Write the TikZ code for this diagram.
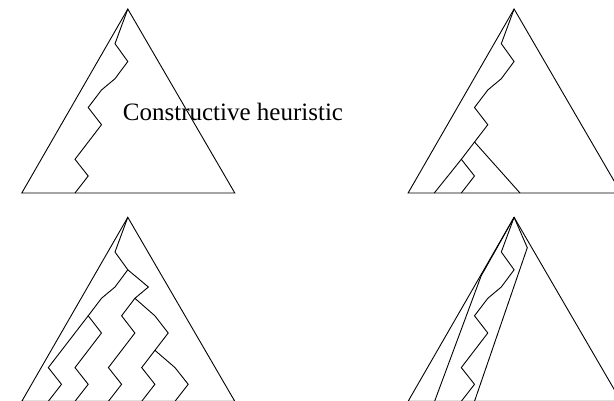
\documentclass[tikz,border=0pt]{standalone}
\usepackage{fontspec}
\setmainfont{Liberation Serif}
\begin{document}
\begin{tikzpicture}[x=1pt,y=-1pt]
\tikzset{
  ln/.style={draw=black, line width=0.9pt, line join=miter},
  tri/.pic={
    \draw[ln] (127.8,9) -- (21.8,193) -- (234.8,193) -- cycle;
    \draw[ln] (127.8,9) -- (115,43.7) -- (127.8,61.5) -- (115,78.7) -- (101.5,90)
      -- (88.2,107.5) -- (101.5,124.7) -- (75,159.3) -- (88.2,176) -- (75,193);
  },
  lbl/.style={font=\fontsize{25}{30}\selectfont, inner sep=0pt, anchor=base}
}
\useasboundingbox (0,0) rectangle (614,400);
% top left
\begin{scope}
  \pic {tri};
\end{scope}
\node[lbl] (title) at (233,120) {Constructive heuristic};
% top right
\begin{scope}[shift={(386.3,0)}]
  \pic {tri};
  \coordinate (trA) at (88.2,142);
  \coordinate (trB) at (133.7,193);
  \coordinate (trC) at (75,159.3);
  \coordinate (trD) at (48,193);
  \draw[ln] (trA) -- (trB);
  \draw[ln] (trC) -- (trD);
\end{scope}
% bottom left
\begin{scope}[shift={(0,208.3)}]
  \pic {tri};
  \coordinate (blA) at (88.2,107.5);
  \coordinate (blB) at (127.8,61.5);
  \draw[ln] (blA) -- (48.3,159.3) -- (61.5,176) -- (48.3,193);
  \draw[ln] (blB) -- (148.4,78.7) -- (134.9,90) -- (121.6,107.5) -- (134.9,124.7)
    -- (108.4,159.3) -- (121.6,176) -- (108.4,193);
  \draw[ln] (134.9,90) -- (154.9,107.5) -- (168.2,124.7) -- (141.7,159.3)
    -- (154.9,176) -- (141.7,193);
  \draw[ln] (154.9,142) -- (175,159.3) -- (188.2,176) -- (175,193);
\end{scope}
% bottom right
\begin{scope}[shift={(386.3,208.3)}]
  \pic {tri};
  \coordinate (brA) at (127.8,9);
  \draw[ln] (brA) -- (94.8,67.7) -- (48.3,193);
  \draw[ln] (brA) -- (141,39.4) -- (88.2,193);
\end{scope}
\end{tikzpicture}
\end{document}
